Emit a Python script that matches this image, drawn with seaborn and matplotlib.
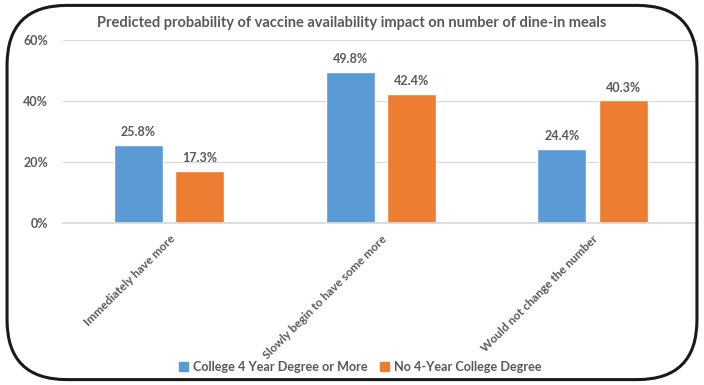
import matplotlib
matplotlib.use("Agg")
import matplotlib.pyplot as plt
from matplotlib.patches import FancyBboxPatch
from matplotlib.ticker import PercentFormatter
import seaborn as sns
import pandas as pd

categories = ["Immediately have more", "Slowly begin to have some more", "Would not change the number"]
college = [25.8, 49.8, 24.4]
no_college = [17.3, 42.4, 40.3]
series_names = ["College 4 Year Degree or More", "No 4-Year College Degree"]
colors = ["#5B9BD5", "#ED7D31"]

df = pd.DataFrame({
    "category": categories * 2,
    "value": college + no_college,
    "group": [series_names[0]] * 3 + [series_names[1]] * 3,
})

sns.set_theme(style="white")
plt.rcParams["font.family"] = ["Lato", "DejaVu Sans"]
text_color = "#595959"

fig = plt.figure(figsize=(7.04, 3.85), dpi=100)
ax = fig.add_axes([0.09, 0.42, 0.902, 0.475])

sns.barplot(data=df, x="category", y="value", hue="group", palette=colors,
            width=0.58, gap=0.2, ax=ax, legend=False, saturation=1)

for cont in ax.containers:
    ax.bar_label(cont, labels=[f"{v:.1f}%" for v in cont.datavalues], padding=5,
                 fontsize=9, fontweight="bold", color=text_color)

ax.set_ylim(0, 60)
ax.set_yticks([0, 20, 40, 60])
ax.yaxis.set_major_formatter(PercentFormatter(decimals=0))
ax.set_xlim(-0.5, 2.5)
ax.yaxis.grid(True, color="#D9D9D9", linewidth=0.9)
ax.set_axisbelow(True)
for s in ["top", "right", "left"]:
    ax.spines[s].set_visible(False)
ax.spines["bottom"].set_color("#D9D9D9")
ax.set_xlabel("")
ax.set_ylabel("")
ax.tick_params(axis="y", length=0, labelsize=9, labelcolor=text_color, pad=11)
ax.tick_params(axis="x", length=0, labelsize=8.5, labelcolor=text_color, pad=7)
for lab in ax.get_yticklabels():
    lab.set_fontweight("bold")
for lab in ax.get_xticklabels():
    lab.set_rotation(45)
    lab.set_ha("right")
    lab.set_rotation_mode("anchor")
    lab.set_fontweight("bold")

fig.text(0.5, 0.94, "Predicted probability of vaccine availability impact on number of dine-in meals",
         ha="center", va="center", fontsize=10.5, fontweight="bold", color=text_color)

handles = [plt.Rectangle((0, 0), 1, 1, color=c) for c in colors]
fig.legend(handles, series_names, loc="center", bbox_to_anchor=(0.512, 0.046), ncol=2,
           frameon=False, handlelength=0.7, handleheight=0.7,
           handletextpad=0.4, columnspacing=1.0, labelcolor=text_color,
           prop={"weight": "bold", "size": 9.1})

frame = FancyBboxPatch((0.01, 0.014), 0.98, 0.972, boxstyle="round,pad=0,rounding_size=0.085",
                       transform=fig.transFigure, fill=False, edgecolor="#1a1a1a", linewidth=2.2,
                       mutation_aspect=704 / 385)
fig.add_artist(frame)

fig.savefig("out.png", dpi=100)
